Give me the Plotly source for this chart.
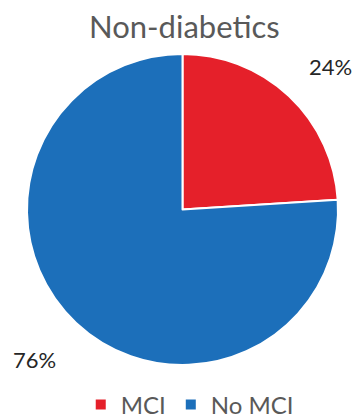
import math
import plotly.graph_objects as go

title = "Non-diabetics"
labels = ["MCI", "No MCI"]
values = [24, 76]
colors = ["#E5202A", "#1C6FBA"]

# pie geometry (paper fractions)
W, H = 358, 418
dom_x = [27 / W, 338 / W]
dom_y = [1 - 366 / H, 1 - 53 / H]

FONT = "Lato, Open Sans, sans-serif"

fig = go.Figure(go.Pie(
    labels=labels, values=values, sort=False, direction="clockwise", rotation=0,
    marker=dict(colors=colors, line=dict(color="white", width=2)),
    textinfo="none", hoverinfo="label+percent",
    domain=dict(x=dom_x, y=dom_y),
))

# percentage labels placed outside, at each slice's mid-angle (small pixel nudges)
label_nudge = [(6, 8), (-6, -1)]
cx = (dom_x[0] + dom_x[1]) / 2 * W
cy = (1 - (dom_y[0] + dom_y[1]) / 2) * H
R = (dom_x[1] - dom_x[0]) * W / 2
total = sum(values)
cum = 0
anns = []
for v, (nx, ny) in zip(values, label_nudge):
    mid = (cum + v / 2) / total * 2 * math.pi
    cum += v
    rr = R * 1.33
    px = cx + math.sin(mid) * rr + nx
    py = cy - math.cos(mid) * rr + ny
    anns.append(dict(x=px / W, y=1 - py / H, xref="paper", yref="paper",
                     xanchor="center", yanchor="middle",
                     text=f"{round(v / total * 100)}%", showarrow=False,
                     font=dict(family=FONT, size=22, color="#262626")))

fig.update_layout(
    width=W, height=H, margin=dict(l=0, r=0, t=0, b=0, autoexpand=False),
    paper_bgcolor="white", plot_bgcolor="white",
    title=dict(text=title, x=0.515, xanchor="center", y=1 - 27 / H, yanchor="middle",
               font=dict(family=FONT, size=31, color="#595959")),
    annotations=anns,
    showlegend=True,
    legend=dict(orientation="h", x=0.53, xanchor="center", y=1 - 405 / H, yanchor="middle",
                font=dict(family=FONT, size=24, color="#595959"),
                itemwidth=30, bgcolor="rgba(0,0,0,0)"),
)

fig.write_html("out.html")
